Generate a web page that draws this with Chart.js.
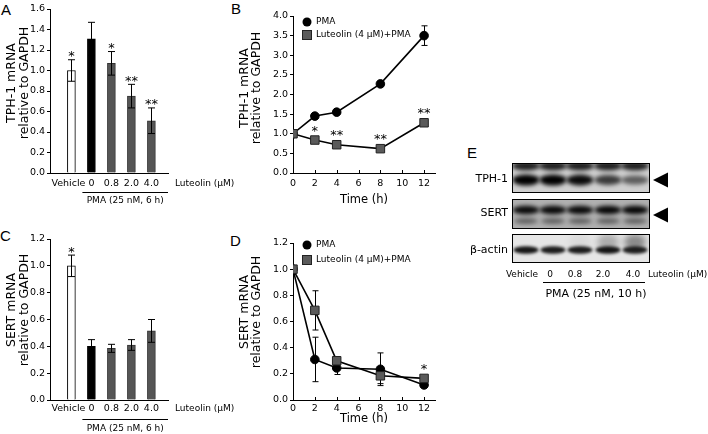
<!DOCTYPE html>
<html><head><meta charset="utf-8">
<script src="https://cdn.jsdelivr.net/npm/chart.js@4.4.1/dist/chart.umd.min.js"></script>
<style>
html,body{margin:0;padding:0;background:#fff;}
body{width:708px;height:434px;position:relative;overflow:hidden;}
canvas{position:absolute;}
.lt{position:absolute;font-family:"Liberation Sans",Arial,sans-serif;font-size:15px;color:#000;line-height:1;}
</style></head><body>
<div class="lt" style="left:1px;top:2px">A</div>
<div class="lt" style="left:231px;top:1px">B</div>
<div class="lt" style="left:0px;top:228px">C</div>
<div class="lt" style="left:230px;top:233px">D</div>
<div class="lt" style="left:467px;top:145px">E</div>
<canvas id="cA" width="240" height="215" style="left:0;top:0;width:240px;height:215px"></canvas>
<canvas id="cB" width="240" height="215" style="left:230px;top:0;width:240px;height:215px"></canvas>
<canvas id="cC" width="240" height="214" style="left:0;top:220px;width:240px;height:214px"></canvas>
<canvas id="cD" width="240" height="214" style="left:230px;top:220px;width:240px;height:214px"></canvas>
<canvas id="cE" width="238" height="180" style="left:470px;top:130px;width:238px;height:180px"></canvas>
<script>
// ---- data ----
const barCats = ['Vehicle', '0', '0.8', '2.0', '4.0'];
const tphBarMean = [1.00, 1.31, 1.07, 0.75, 0.51];
const tphBarErr = [0.105, 0.16, 0.115, 0.115, 0.125];
const tphBarStars = ['*', '', '*', '**', '**'];
const sertBarMean = [1.00, 0.40, 0.385, 0.41, 0.515];
const sertBarErr = [0.08, 0.05, 0.03, 0.04, 0.085];
const sertBarStars = ['*', '', '', '', ''];
const timeH = [0, 2, 4, 8, 12];
const tphPMA = [1.0, 1.45, 1.55, 2.27, 3.50];
const tphPMAErr = [0, 0.05, 0.03, 0.07, 0.25];
const tphLut = [1.0, 0.84, 0.72, 0.62, 1.28];
const tphLutErr = [0, 0.04, 0.04, 0.03, 0.08];
const tphLutStars = ['', '*', '**', '**', '**'];
const sertPMA = [1.0, 0.31, 0.245, 0.235, 0.115];
const sertPMAErr = [0, 0.17, 0.05, 0.125, 0.01];
const sertLut = [1.0, 0.685, 0.30, 0.185, 0.165];
const sertLutErr = [0, 0.15, 0.02, 0.06, 0.01];
const sertLutStars = ['', '', '', '', '*'];
const blotRows = ['TPH-1', 'SERT', 'β-actin'];
const blotLanes = ['Vehicle', '0', '0.8', '2.0', '4.0'];
const tphBand = [1.0, 1.0, 0.95, 0.72, 0.55];
const sertBand = [0.95, 0.95, 0.95, 0.97, 0.97];
const actinBand = [0.9, 0.88, 0.88, 0.9, 0.85];
const actinSmear = [0.0, 0.0, 0.05, 0.25, 0.4];

const FONT = '"DejaVu Sans", Verdana, sans-serif';
const fnt = s => s + 'px ' + FONT;

function yTitles(ctx, lines, xs, yc, size) {
  ctx.save(); ctx.fillStyle = '#000'; ctx.font = fnt(size);
  ctx.textAlign = 'center'; ctx.textBaseline = 'middle';
  lines.forEach((t, i) => { ctx.save(); ctx.translate(xs[i], yc); ctx.rotate(-Math.PI / 2); ctx.fillText(t, 0, 0); ctx.restore(); });
  ctx.restore();
}
function drawStar(ctx, s, x, yc) {
  if (!s) return;
  ctx.save(); ctx.fillStyle = '#000'; ctx.font = fnt(13); ctx.textAlign = 'center'; ctx.textBaseline = 'alphabetic';
  ctx.fillText(s, x, yc + 7.5); ctx.restore();
}
function errBar(ctx, x, y1, y2, half) {
  ctx.beginPath();
  ctx.moveTo(x, y1); ctx.lineTo(x, y2);
  ctx.moveTo(x - half, y1); ctx.lineTo(x + half, y1);
  ctx.moveTo(x - half, y2); ctx.lineTo(x + half, y2);
  ctx.stroke();
}

function barChart(id, mean, err, stars, yMax, titles, g) {
  const annot = {
    id: 'annot' + id,
    afterDatasetsDraw(chart) {
      const ctx = chart.ctx, xs = chart.scales.x, ys = chart.scales.y;
      ctx.save(); ctx.strokeStyle = '#000'; ctx.lineWidth = 1;
      mean.forEach((m, i) => {
        const x = Math.round(xs.getPixelForValue(i)) + 0.5;
        const yt = ys.getPixelForValue(m + err[i]), yb = ys.getPixelForValue(m - err[i]);
        errBar(ctx, x, yt, yb, 3.5);
        drawStar(ctx, stars[i], x, yt - 7);
      });
      ctx.restore();
    },
    afterDraw(chart) {
      const ctx = chart.ctx, xs = chart.scales.x, ca = chart.chartArea;
      ctx.save(); ctx.fillStyle = '#000'; ctx.strokeStyle = '#000'; ctx.lineWidth = 1;
      ctx.textBaseline = 'middle'; ctx.textAlign = 'center';
      ctx.font = fnt(9.5);
      barCats.forEach((c, i) => {
        const x = xs.getPixelForValue(i) - (i === 0 ? 3 : 0);
        ctx.fillText(c, x, ca.bottom + g.labOff);
      });
      ctx.font = fnt(9); ctx.textAlign = 'left';
      ctx.fillText('Luteolin (μM)', ca.right + 7, ca.bottom + g.labOff);
      const x0 = xs.getPixelForValue(1) - 9, x1 = ca.right;
      ctx.beginPath(); ctx.moveTo(x0, ca.bottom + g.lineOff + 0.5); ctx.lineTo(x1, ca.bottom + g.lineOff + 0.5); ctx.stroke();
      ctx.textAlign = 'center';
      ctx.fillText('PMA (25 nM, 6 h)', (x0 + x1) / 2, ca.bottom + g.pmaOff);
      ctx.restore();
      yTitles(ctx, titles, [12, 25], g.titleY, 12.5);
    }
  };
  return new Chart(document.getElementById(id), {
    type: 'bar',
    data: { datasets: [{
      data: mean.map((v, i) => ({ x: i, y: v })),
      backgroundColor: ['#ffffff', '#000000', '#555555', '#555555', '#555555'],
      borderColor: ['#000000', '#000000', '#333333', '#333333', '#333333'],
      borderWidth: 1, barThickness: 8, borderSkipped: 'bottom'
    }] },
    options: {
      responsive: false, animation: false, events: [],
      layout: { padding: { left: 0, right: g.padRight, top: g.padTop, bottom: 0 } },
      plugins: { legend: { display: false }, tooltip: { enabled: false } },
      scales: {
        x: {
          type: 'linear', min: -0.48, max: 4.24,
          grid: { display: false, drawTicks: false },
          border: { display: true, color: '#000', width: 1 },
          afterBuildTicks: s => { s.ticks = barCats.map((c, i) => ({ value: i })); },
          ticks: { display: false },
          afterFit: s => { s.height = g.xHeight; s.paddingLeft = 0; s.paddingRight = 0; }
        },
        y: {
          min: 0, max: yMax,
          ticks: { stepSize: 0.2, callback: v => v.toFixed(1), font: { family: FONT, size: 9.5 }, color: '#000', padding: 2 },
          grid: { drawOnChartArea: false, drawTicks: true, tickLength: 3, color: '#000' },
          border: { display: true, color: '#000', width: 1 },
          afterFit: s => { s.width = g.yWidth; s.paddingTop = 0; s.paddingBottom = 0; }
        }
      }
    },
    plugins: [annot]
  });
}

function lineChart(id, pma, pmaErr, lut, lutErr, stars, yMax, yStep, titles, g) {
  const annot = {
    id: 'annotL' + id,
    beforeDatasetsDraw(chart) {
      const ctx = chart.ctx, xs = chart.scales.x, ys = chart.scales.y;
      ctx.save(); ctx.strokeStyle = '#000'; ctx.lineWidth = 1;
      [[pma, pmaErr], [lut, lutErr]].forEach(([m, e]) => {
        m.forEach((v, i) => {
          if (!e[i]) return;
          const x = Math.round(xs.getPixelForValue(timeH[i])) + 0.5;
          errBar(ctx, x, ys.getPixelForValue(v + e[i]), ys.getPixelForValue(v - e[i]), 3);
        });
      });
      ctx.restore();
    },
    afterDatasetsDraw(chart) {
      const ctx = chart.ctx, xs = chart.scales.x, ys = chart.scales.y;
      lut.forEach((v, i) => {
        if (!stars[i]) return;
        const x = xs.getPixelForValue(timeH[i]);
        const y = Math.min(ys.getPixelForValue(v + lutErr[i]), ys.getPixelForValue(v) - 5);
        drawStar(ctx, stars[i], x, y - 8);
      });
    },
    afterDraw(chart) {
      const ctx = chart.ctx, xs = chart.scales.x, ca = chart.chartArea;
      ctx.save(); ctx.strokeStyle = '#000'; ctx.lineWidth = 1;
      for (let t = 2; t <= 12; t += 2) {
        const x = Math.round(xs.getPixelForValue(t)) + 0.5;
        ctx.beginPath(); ctx.moveTo(x, ca.bottom); ctx.lineTo(x, ca.bottom - 3); ctx.stroke();
      }
      ctx.fillStyle = '#000';
      ctx.beginPath(); ctx.arc(g.legX, g.legY1, 4.5, 0, Math.PI * 2); ctx.fill();
      ctx.fillStyle = '#5a5a5a'; ctx.strokeStyle = '#222';
      ctx.fillRect(g.legX - 4.5, g.legY2 - 4.5, 9, 9); ctx.strokeRect(g.legX - 4.5, g.legY2 - 4.5, 9, 9);
      ctx.fillStyle = '#000'; ctx.font = fnt(9); ctx.textAlign = 'left'; ctx.textBaseline = 'middle';
      ctx.fillText('PMA', g.legX + 9, g.legY1);
      ctx.fillText('Luteolin (4 μM)+PMA', g.legX + 9, g.legY2);
      ctx.font = fnt(11.5); ctx.textAlign = 'center';
      ctx.fillText('Time (h)', (ca.left + ca.right) / 2, ca.bottom + g.titleOff);
      ctx.restore();
      yTitles(ctx, titles, [15, 27], g.titleY, 12.5);
    }
  };
  return new Chart(document.getElementById(id), {
    type: 'line',
    data: { datasets: [
      { label: 'Luteolin (4 μM)+PMA', data: timeH.map((t, i) => ({ x: t, y: lut[i] })), borderColor: '#000', borderWidth: 1.6,
        pointStyle: 'rect', pointRadius: 6, pointBackgroundColor: '#5a5a5a', pointBorderColor: '#222', pointBorderWidth: 1, order: 0, tension: 0 },
      { label: 'PMA', data: timeH.map((t, i) => ({ x: t, y: pma[i] })), borderColor: '#000', borderWidth: 1.6,
        pointStyle: 'circle', pointRadius: 4.3, pointBackgroundColor: '#000', pointBorderColor: '#000', pointBorderWidth: 1, order: 1, tension: 0 }
    ] },
    options: {
      responsive: false, animation: false, events: [],
      layout: { padding: { left: 0, right: g.padRight, top: g.padTop, bottom: 0 } },
      plugins: { legend: { display: false }, tooltip: { enabled: false } },
      scales: {
        x: {
          type: 'linear', min: 0, max: 13,
          grid: { display: false, drawTicks: false },
          border: { display: true, color: '#000', width: 1 },
          afterBuildTicks: s => { s.ticks = [0, 2, 4, 6, 8, 10, 12].map(v => ({ value: v })); },
          ticks: { font: { family: FONT, size: 9.5 }, color: '#000', padding: g.xPad, autoSkip: false, maxRotation: 0 },
          afterFit: s => { s.height = g.xHeight; s.paddingLeft = 0; s.paddingRight = 0; }
        },
        y: {
          min: 0, max: yMax,
          ticks: { stepSize: yStep, callback: v => v.toFixed(1), font: { family: FONT, size: 9.5 }, color: '#000', padding: 2 },
          grid: { drawOnChartArea: false, drawTicks: true, tickLength: 3, color: '#000' },
          border: { display: true, color: '#000', width: 1 },
          afterFit: s => { s.width = g.yWidth; s.paddingTop = 0; s.paddingBottom = 0; }
        }
      }
    },
    plugins: [annot]
  });
}

barChart('cA', tphBarMean, tphBarErr, tphBarStars, 1.6, ['TPH-1 mRNA', 'relative to GAPDH'],
  { yWidth: 50, padRight: 72, padTop: 9, xHeight: 42, labOff: 11, lineOff: 19, pmaOff: 28, titleY: 83 });
barChart('cC', sertBarMean, sertBarErr, sertBarStars, 1.2, ['SERT mRNA', 'relative to GAPDH'],
  { yWidth: 50, padRight: 72, padTop: 19, xHeight: 34, labOff: 9, lineOff: 19, pmaOff: 29, titleY: 90 });
lineChart('cB', tphPMA, tphPMAErr, tphLut, tphLutErr, tphLutStars, 4.0, 0.5, ['TPH-1 mRNA', 'relative to GAPDH'],
  { yWidth: 63, padRight: 35, padTop: 16, xHeight: 42, xPad: 5, titleOff: 27, titleY: 88, legX: 77, legY1: 22, legY2: 35 });
lineChart('cD', sertPMA, sertPMAErr, sertLut, sertLutErr, sertLutStars, 1.2, 0.2, ['SERT mRNA', 'relative to GAPDH'],
  { yWidth: 63, padRight: 35, padTop: 23, xHeight: 34, xPad: 3, titleOff: 19, titleY: 92, legX: 77, legY1: 25, legY2: 40 });

// ---- panel E: western blot ----
(function () {
  const c = document.getElementById('cE'), ctx = c.getContext('2d');
  const laneX = [56, 83, 110, 138, 165];
  const boxL = 42, boxR = 180;
  const boxes = [[33, 63], [69, 99], [104, 133]];
  function band(cx, cy, rx, ry, a, blur) {
    ctx.save(); ctx.filter = 'blur(' + blur + 'px)';
    ctx.fillStyle = 'rgba(0,0,0,' + a + ')';
    ctx.beginPath(); ctx.ellipse(cx, cy, rx, ry, 0, 0, Math.PI * 2); ctx.fill();
    ctx.restore();
  }
  function clipBox(i, bg) {
    const [t, b] = boxes[i];
    ctx.save(); ctx.beginPath(); ctx.rect(boxL, t, boxR - boxL, b - t); ctx.clip();
    ctx.fillStyle = bg; ctx.fillRect(boxL, t, boxR - boxL, b - t);
  }
  clipBox(0, '#cfcfcf');
  laneX.forEach((x, i) => {
    band(x, 36, 14, 4.5, 0.85, 2);
    band(x, 50, 13.5, 5.5 * (0.6 + 0.4 * tphBand[i]), tphBand[i], 2.2);
  });
  ctx.restore();
  clipBox(1, '#b0b0b0');
  laneX.forEach((x, i) => {
    band(x, 80, 13.5, 4.2, sertBand[i], 2);
    band(x, 91, 12, 3, 0.45, 2);
  });
  ctx.restore();
  clipBox(2, '#e6e6e6');
  laneX.forEach((x, i) => {
    if (actinSmear[i]) band(x, 112, 11, 8, actinSmear[i], 3);
    band(x, 120, 12.5, 3.8, actinBand[i], 1.8);
  });
  ctx.restore();
  ctx.strokeStyle = '#000'; ctx.lineWidth = 1;
  boxes.forEach(([t, b]) => ctx.strokeRect(boxL + 0.5, t + 0.5, boxR - boxL - 1, b - t - 1));
  ctx.fillStyle = '#000';
  [50, 85].forEach(y => { ctx.beginPath(); ctx.moveTo(183, y); ctx.lineTo(198, y - 7.5); ctx.lineTo(198, y + 7.5); ctx.closePath(); ctx.fill(); });
  ctx.font = fnt(11); ctx.textAlign = 'right'; ctx.textBaseline = 'middle';
  ctx.fillText(blotRows[0], 38, 49);
  ctx.fillText(blotRows[1], 38, 83);
  ctx.fillText(blotRows[2], 38, 120);
  ctx.font = fnt(9); ctx.textAlign = 'center';
  const labX = [52, 80, 105, 133, 163];
  blotLanes.forEach((t, i) => ctx.fillText(t, labX[i], 145));
  ctx.textAlign = 'left';
  ctx.fillText('Luteolin (μM)', 178, 145);
  ctx.beginPath(); ctx.moveTo(73, 152.5); ctx.lineTo(175, 152.5); ctx.stroke();
  ctx.font = fnt(11); ctx.textAlign = 'center';
  ctx.fillText('PMA (25 nM, 10 h)', 126, 164);
})();
</script>
</body></html>
